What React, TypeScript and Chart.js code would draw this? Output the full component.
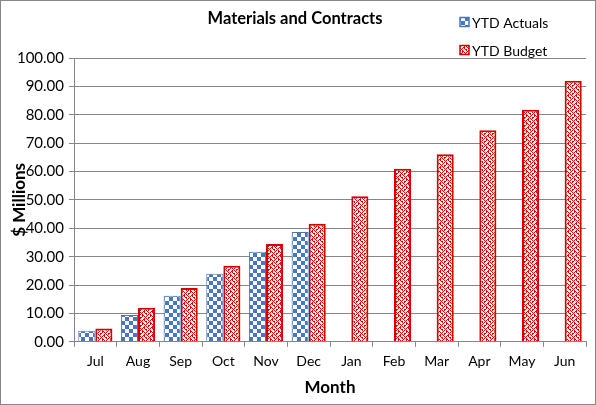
import { useEffect, useRef } from "react"
import { Chart, registerables, type ChartConfiguration, type Plugin } from "chart.js"

Chart.register(...registerables)

const chartTitle = "Materials and Contracts"
const months = ["Jul", "Aug", "Sep", "Oct", "Nov", "Dec", "Jan", "Feb", "Mar", "Apr", "May", "Jun"]
const ytdActuals = [3.9, 9.4, 16.2, 24.0, 31.7, 38.7, null, null, null, null, null, null]
const ytdBudget = [4.7, 12.0, 19.0, 26.8, 34.5, 41.6, 51.3, 61.0, 66.1, 74.5, 81.8, 92.0]

const FONT = "Lato, 'Liberation Sans', sans-serif"
const GRID = "#868686"

// blue checkerboard tile
const makeChecker = () => {
  const c = document.createElement("canvas")
  c.width = 8
  c.height = 8
  const g = c.getContext("2d")!
  g.fillStyle = "#ffffff"
  g.fillRect(0, 0, 8, 8)
  g.fillStyle = "#4677c0"
  g.fillRect(0, 0, 4, 4)
  g.fillRect(4, 4, 4, 4)
  return g.createPattern(c, "repeat")!
}

// red zig-zag weave tile
const weave = [
  "11001000",
  "01010100",
  "00100110",
  "01000101",
  "10011000",
  "01010001",
  "00100011",
  "00010101",
]
const makeWeave = () => {
  const c = document.createElement("canvas")
  c.width = 8
  c.height = 8
  const g = c.getContext("2d")!
  g.fillStyle = "#ffffff"
  g.fillRect(0, 0, 8, 8)
  g.fillStyle = "#e00000"
  weave.forEach((row, y) =>
    row.split("").forEach((v, x) => {
      if (v === "1") g.fillRect(x, y, 1, 1)
    }),
  )
  return g.createPattern(c, "repeat")!
}

// title and a stacked legend in the top right, drawn like the original
const headerPlugin: Plugin = {
  id: "header",
  afterDraw(chart) {
    const ctx = chart.ctx
    ctx.save()
    ctx.fillStyle = "#000"
    ctx.font = `bold 16.5px ${FONT}`
    ctx.textAlign = "center"
    ctx.textBaseline = "middle"
    ctx.fillText(chartTitle, 294, 18)

    ctx.font = `14px ${FONT}`
    ctx.textAlign = "left"
    chart.data.datasets.forEach((ds: any, i) => {
      const y = 21 + i * 28
      ctx.fillStyle = ds.backgroundColor
      ctx.fillRect(459, y - 4.5, 9, 9)
      ctx.strokeStyle = ds.borderColor
      ctx.lineWidth = 1.5
      ctx.strokeRect(459, y - 4.5, 9, 9)
      ctx.fillStyle = "#000"
      ctx.fillText(ds.label, 471, y + 1)
    })
    ctx.restore()
  },
}

export default function App() {
  const chartRef = useRef<HTMLCanvasElement>(null)

  useEffect(() => {
    if (!chartRef.current) return

    const config: ChartConfiguration = {
      type: "bar",
      data: {
        labels: months,
        datasets: [
          {
            label: "YTD Actuals",
            data: ytdActuals,
            backgroundColor: makeChecker(),
            borderColor: "#4677c0",
            borderWidth: 1,
            categoryPercentage: 0.8,
            barPercentage: 1,
          },
          {
            label: "YTD Budget",
            data: ytdBudget,
            backgroundColor: makeWeave(),
            borderColor: "#d00000",
            borderWidth: 2,
            categoryPercentage: 0.8,
            barPercentage: 1,
          },
        ],
      },
      options: {
        animation: false,
        responsive: true,
        maintainAspectRatio: false,
        layout: { padding: { top: 57, right: 9, left: 0, bottom: 6 } },
        plugins: {
          legend: { display: false },
          title: { display: false },
          tooltip: { enabled: false },
        },
        scales: {
          x: {
            offset: true,
            grid: {
              offset: true,
              drawOnChartArea: false,
              drawTicks: true,
              tickLength: 5,
              color: GRID,
            },
            border: { color: GRID, width: 1 },
            ticks: { color: "#000", font: { family: FONT, size: 14 }, padding: 6 },
            title: {
              display: true,
              text: "Month",
              color: "#000",
              font: { family: FONT, size: 17, weight: "bold" },
              padding: { top: 2, bottom: 0 },
            },
          },
          y: {
            min: 0,
            max: 100,
            afterFit: (scale) => {
              scale.width = 73
            },
            grid: { color: GRID, lineWidth: 1, tickLength: 5 },
            border: { color: GRID, width: 1 },
            ticks: {
              stepSize: 10,
              color: "#000",
              font: { family: FONT, size: 15 },
              padding: 5,
              callback: (v) => Number(v).toFixed(2),
            },
            title: {
              display: true,
              text: "$ Millions",
              color: "#000",
              font: { family: FONT, size: 17, weight: "bold" },
              padding: { top: 8, bottom: 0 },
            },
          },
        },
      },
      plugins: [headerPlugin],
    }

    const chart = new Chart(chartRef.current, config)
    return () => chart.destroy()
  }, [])

  return (
    <div
      style={{
        position: "absolute",
        left: 0,
        top: 0,
        width: 596,
        height: 405,
        boxSizing: "border-box",
        border: "1px solid #868686",
        background: "#fff",
      }}
    >
      <div style={{ position: "relative", width: "100%", height: "100%" }}>
        <canvas ref={chartRef}></canvas>
      </div>
    </div>
  )
}
